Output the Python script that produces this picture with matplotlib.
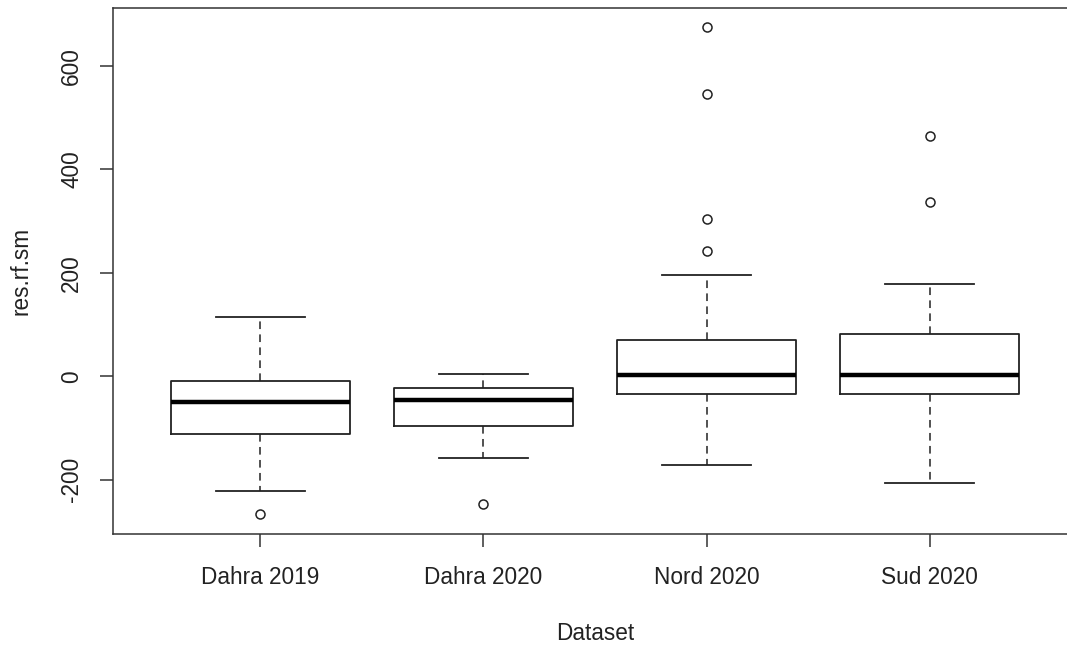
import numpy as np
import matplotlib.pyplot as plt

plt.rcParams['font.family'] = ['Liberation Sans', 'DejaVu Sans']
plt.rcParams['axes.unicode_minus'] = False

# résidus du modèle rf par jeu de données
groupes = ["Dahra 2019", "Dahra 2020", "Nord 2020", "Sud 2020"]
med = [-50, -45, 2, 2]
q1 = [-111, -97, -34, -34]
q3 = [-9, -23, 70, 81]
moust_bas = [-221, -157, -171, -207]
moust_haut = [115, 4, 195, 178]
aberrants = [[-266], [-246], [675, 545, 304, 242], [465, 337]]

stats = []
for i, g in enumerate(groupes):
    stats.append({"label": g, "med": med[i], "q1": q1[i], "q3": q3[i],
                  "whislo": moust_bas[i], "whishi": moust_haut[i],
                  "fliers": aberrants[i]})

fig = plt.figure(figsize=(10.67, 6.46), dpi=100)
ax = fig.add_axes([113 / 1067, 1 - 533.5 / 646, 964 / 1067, 526 / 646])

ax.bxp(stats, positions=np.arange(1, 5), widths=0.8, capwidths=0.4,
       boxprops=dict(color="#222222", lw=1.3),
       medianprops=dict(color="black", lw=3.2, solid_capstyle="butt"),
       whiskerprops=dict(color="#222222", lw=1.1, linestyle=(0, (5, 3.5))),
       capprops=dict(color="#222222", lw=1.3),
       flierprops=dict(marker="o", markersize=6.5, markerfacecolor="none",
                       markeredgecolor="#222222", markeredgewidth=1.1))

ax.set_xlim(0.34, 4.66)
ax.set_ylim(-303.8, 712.7)
ax.set_yticks([-200, 0, 200, 400, 600])
ax.set_xticks(np.arange(1, 5))
ax.set_xticklabels(groupes)
for s in ax.spines.values():
    s.set_color("#333333")
    s.set_linewidth(1.1)
ax.tick_params(axis="both", length=9.5, width=1.1, color="#333333",
               labelsize=16.3, labelcolor="#222222", pad=12)
ax.tick_params(axis="x", pad=14)
for t in ax.get_yticklabels():
    t.set_rotation(90)
    t.set_va("center")

ax.set_xlabel("Dataset", fontsize=16.3, color="#222222", labelpad=24)
ax.set_ylabel("res.rf.sm", fontsize=16.3, color="#222222", labelpad=20)

fig.savefig("out.png", dpi=100)
